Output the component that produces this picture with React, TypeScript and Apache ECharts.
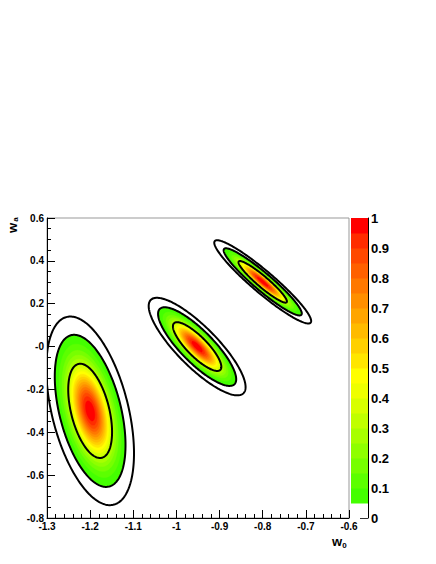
import React, { useEffect, useRef } from "react";
import * as echarts from "echarts";

// ---- data ----
const xTickLabels = ["-1.3", "-1.2", "-1.1", "-1", "-0.9", "-0.8", "-0.7", "-0.6"];
const yTickLabels = ["-0.8", "-0.6", "-0.4", "-0.2", "-0", "0.2", "0.4", "0.6"];
const zTickLabels = ["0", "0.1", "0.2", "0.3", "0.4", "0.5", "0.6", "0.7", "0.8", "0.9", "1"];

// three Gaussian likelihoods (w0, wa)
const centersW0 = [-1.2, -0.952, -0.8];
const centersWa = [-0.3, 0.0, 0.302];
const sigmaW0 = [0.0335, 0.037, 0.037];
const sigmaWa = [0.145, 0.075, 0.064];
const correlation = [-0.45, -0.83, -0.94];

// colour bands (lower edge of each band) and their colours
const bandLevels = [0.05, 0.1, 0.15, 0.2, 0.25, 0.3, 0.35, 0.4, 0.45, 0.5, 0.55, 0.6, 0.65, 0.7, 0.75, 0.8, 0.85, 0.9, 0.95];
const bandColors = [
  "#44ff00", "#5cff00", "#77ff00", "#8fff00", "#a8ff00", "#c0ff00", "#d8ff00", "#eeff00", "#ffff00",
  "#ffe600", "#ffd000", "#ffbb00", "#ffa500", "#ff8f00", "#ff7800", "#ff6000", "#ff4800", "#ff2c00", "#ff0000",
];
const bandWidth = 0.05;

// contour lines: delta chi2 for 68%, 95%, 99% (2 dof)
const contourChi2 = [2.3, 5.99, 9.21];

const xMin = -1.3, xMax = -0.6, xStep = 0.1;
const yMin = -0.8, yMax = 0.6, yStep = 0.2;

const FONT = "Liberation Sans";

function ellipsePoints(i: number, chi2: number, api: any) {
  const s = Math.sqrt(chi2);
  const r = correlation[i];
  const q = Math.sqrt(1 - r * r);
  const pts: number[][] = [];
  const N = 240;
  for (let k = 0; k < N; k++) {
    const t = (2 * Math.PI * k) / N;
    const x = centersW0[i] + s * sigmaW0[i] * Math.cos(t);
    const y = centersWa[i] + s * sigmaWa[i] * (r * Math.cos(t) + q * Math.sin(t));
    pts.push(api.coord([x, y]));
  }
  return pts;
}

export default function App() {
  const ref = useRef<HTMLDivElement>(null);
  useEffect(() => {
    if (!ref.current) return;
    const chart = echarts.init(ref.current, null, { renderer: "svg" });

    const bandData: number[][] = [];
    for (let i = 0; i < centersW0.length; i++) {
      for (let j = 0; j < bandLevels.length; j++) bandData.push([i, j]);
    }
    const contourData: number[][] = [];
    for (let i = 0; i < centersW0.length; i++) {
      for (let j = 0; j < contourChi2.length; j++) contourData.push([i, j]);
    }

    const labelStyle = { fontFamily: FONT, fontWeight: "bold" as const, fontSize: 10, color: "#000" };

    chart.setOption({
      animation: false,
      grid: [
        { left: 47, top: 218, width: 302, height: 300, show: true, borderColor: "#999", borderWidth: 1, backgroundColor: "transparent" },
        { left: 351, top: 218, width: 17, height: 300, show: false },
      ],
      xAxis: [
        {
          gridIndex: 0, type: "value", min: xMin, max: xMax, interval: xStep,
          axisLine: { onZero: false, lineStyle: { color: "#000", width: 1 } },
          axisTick: { inside: true, length: 8, lineStyle: { color: "#000" } },
          minorTick: { show: true, splitNumber: 5, length: 4, lineStyle: { color: "#000" } },
          splitLine: { show: false },
          axisLabel: { ...labelStyle, margin: 3, formatter: (v: number) => xTickLabels[Math.round((v - xMin) / xStep)] ?? "" },
        },
        { gridIndex: 1, type: "value", min: 0, max: 1, show: false },
      ],
      yAxis: [
        {
          gridIndex: 0, type: "value", min: yMin, max: yMax, interval: yStep,
          axisLine: { onZero: false, lineStyle: { color: "#000", width: 1 } },
          axisTick: { inside: true, length: 8, lineStyle: { color: "#000" } },
          minorTick: { show: true, splitNumber: 4, length: 4, lineStyle: { color: "#000" } },
          splitLine: { show: false },
          axisLabel: { ...labelStyle, margin: 3, formatter: (v: number) => yTickLabels[Math.round((v - yMin) / yStep)] ?? "" },
        },
        {
          gridIndex: 1, type: "value", min: 0, max: 1, interval: 0.1, position: "right",
          axisLine: { show: true, onZero: false, lineStyle: { color: "#000", width: 1 } },
          axisTick: { show: true, inside: true, length: 8, lineStyle: { color: "#333" } },
          splitLine: { show: false },
          axisLabel: { fontFamily: FONT, fontWeight: "bold", fontSize: 13, color: "#000", margin: 3,
            formatter: (v: number) => zTickLabels[Math.round(v * 10)] ?? "" },
        },
      ],
      series: [
        {
          type: "custom",
          xAxisIndex: 0, yAxisIndex: 0,
          clip: true,
          data: bandData,
          renderItem: (params: any, api: any) => {
            const i = api.value(0);
            const j = api.value(1);
            const level = bandLevels[j];
            const pts = ellipsePoints(i, -2 * Math.log(level), api);
            return { type: "polygon", shape: { points: pts }, style: { fill: bandColors[j], stroke: bandColors[j], lineWidth: 0.5 } };
          },
          z: 2,
        },
        {
          type: "custom",
          xAxisIndex: 0, yAxisIndex: 0,
          clip: true,
          data: contourData,
          renderItem: (params: any, api: any) => {
            const i = api.value(0);
            const j = api.value(1);
            const pts = ellipsePoints(i, contourChi2[j], api);
            return { type: "polygon", shape: { points: pts }, style: { fill: "none", stroke: "#000", lineWidth: 2 } };
          },
          z: 3,
        },
        {
          type: "custom",
          xAxisIndex: 1, yAxisIndex: 1,
          data: bandLevels.map((l, j) => [j, l]),
          renderItem: (params: any, api: any) => {
            const j = api.value(0);
            const lo = bandLevels[j];
            const p0 = api.coord([0, lo + bandWidth]);
            const p1 = api.coord([1, lo]);
            return { type: "rect", shape: { x: p0[0], y: p0[1], width: p1[0] - p0[0], height: p1[1] - p0[1] + 0.5 }, style: { fill: bandColors[j] } };
          },
          z: 1,
        },
      ],
      graphic: [
        { type: "text", x: 12, y: 228, rotation: Math.PI / 2, style: { text: "w", fontFamily: FONT, fontWeight: "bold", fontSize: 13, fill: "#000", align: "center", verticalAlign: "middle" } },
        { type: "text", x: 15.5, y: 219.5, rotation: Math.PI / 2, style: { text: "a", fontFamily: FONT, fontWeight: "bold", fontSize: 8, fill: "#000", align: "center", verticalAlign: "middle" } },
        { type: "text", x: 337, y: 541, style: { text: "w", fontFamily: FONT, fontWeight: "bold", fontSize: 13, fill: "#000", align: "center", verticalAlign: "middle" } },
        { type: "text", x: 344.5, y: 545.5, style: { text: "0", fontFamily: FONT, fontWeight: "bold", fontSize: 8, fill: "#000", align: "center", verticalAlign: "middle" } },
      ],
    });
    return () => chart.dispose();
  }, []);
  return <div ref={ref} style={{ position: "absolute", left: 0, top: 0, width: 436, height: 564 }} />;
}
